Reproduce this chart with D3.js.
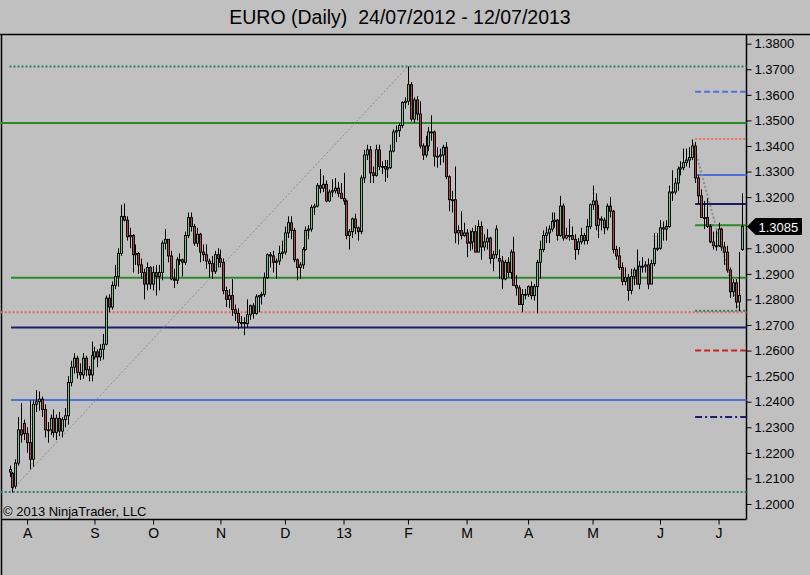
<!DOCTYPE html>
<html>
<head>
<meta charset="utf-8">
<title>EURO (Daily)</title>
<script src="https://cdnjs.cloudflare.com/ajax/libs/d3/7.8.5/d3.min.js"></script>
<style>
body { margin: 0; background: #c0c0c0; }
svg { display: block; font-family: "Liberation Sans", Arial, sans-serif; }
</style>
</head>
<body>
<svg width="810" height="575"></svg>
<script>
// daily bars, each [open, high, low, close]
var jul12 = [
  [1.2125,1.2150,1.2105,1.2135],[1.2120,1.2125,1.2045,1.2065],[1.2070,1.2175,1.2060,1.2160],
  [1.2160,1.2340,1.2150,1.2290],[1.2290,1.2395,1.2240,1.2270],[1.2315,1.2330,1.2250,1.2275]
];
var aug12 = [
  [1.2275,1.2300,1.2200,1.2240],[1.2240,1.2405,1.2135,1.2175],[1.2175,1.2405,1.2145,1.2390],
  [1.2390,1.2445,1.2360,1.2400],[1.2400,1.2440,1.2365,1.2410],[1.2410,1.2420,1.2340,1.2370],
  [1.2370,1.2390,1.2260,1.2290],[1.2290,1.2320,1.2240,1.2290],[1.2290,1.2350,1.2270,1.2335],
  [1.2335,1.2370,1.2260,1.2280],[1.2280,1.2350,1.2250,1.2335],[1.2335,1.2360,1.2265,1.2285],
  [1.2285,1.2340,1.2260,1.2330],[1.2330,1.2375,1.2300,1.2345],[1.2345,1.2500,1.2310,1.2475],
  [1.2475,1.2560,1.2460,1.2535],[1.2535,1.2590,1.2510,1.2570],[1.2570,1.2580,1.2490,1.2515],
  [1.2515,1.2550,1.2485,1.2505],[1.2505,1.2590,1.2490,1.2570],[1.2570,1.2580,1.2500,1.2525],
  [1.2525,1.2540,1.2480,1.2505],[1.2505,1.2635,1.2480,1.2580]
];
var sep12 = [
  [1.2575,1.2615,1.2565,1.2595],[1.2595,1.2605,1.2535,1.2575],[1.2575,1.2625,1.2560,1.2605],
  [1.2605,1.2665,1.2565,1.2625],[1.2625,1.2815,1.2620,1.2805],[1.2805,1.2820,1.2750,1.2770],
  [1.2770,1.2870,1.2760,1.2855],[1.2855,1.2935,1.2840,1.2890],[1.2890,1.3000,1.2850,1.2980],
  [1.2980,1.3170,1.2970,1.3125],[1.3125,1.3175,1.3105,1.3110],[1.3110,1.3125,1.3030,1.3045],
  [1.3045,1.3080,1.3000,1.3050],[1.3050,1.3055,1.2905,1.2975],[1.2975,1.3015,1.2935,1.2980],
  [1.2980,1.2985,1.2900,1.2935],[1.2935,1.2960,1.2880,1.2905],[1.2905,1.2920,1.2800,1.2860],
  [1.2860,1.2945,1.2835,1.2925],[1.2925,1.2930,1.2840,1.2860]
];
var oct12 = [
  [1.2860,1.2930,1.2835,1.2905],[1.2905,1.2935,1.2815,1.2890],[1.2890,1.2935,1.2835,1.2905],
  [1.2905,1.3030,1.2875,1.3020],[1.3020,1.3075,1.2995,1.3035],[1.3035,1.3035,1.2945,1.2970],
  [1.2970,1.2990,1.2875,1.2880],[1.2880,1.2920,1.2845,1.2875],[1.2875,1.2965,1.2860,1.2955],
  [1.2955,1.2980,1.2935,1.2955],[1.2955,1.2960,1.2890,1.2945],[1.2945,1.3065,1.2935,1.3050],
  [1.3050,1.3140,1.3040,1.3120],[1.3120,1.3140,1.3065,1.3085],[1.3085,1.3095,1.3010,1.3020],
  [1.3020,1.3080,1.3005,1.3055],[1.3055,1.3060,1.2945,1.2985],[1.2985,1.3015,1.2950,1.2975],
  [1.2975,1.3015,1.2920,1.2950],[1.2950,1.2960,1.2885,1.2940],[1.2940,1.2970,1.2880,1.2910],
  [1.2910,1.2990,1.2900,1.2975],[1.2975,1.3000,1.2925,1.2960]
];
var nov12 = [
  [1.2960,1.2995,1.2925,1.2945],[1.2945,1.2960,1.2820,1.2835],[1.2835,1.2850,1.2770,1.2800],
  [1.2800,1.2840,1.2765,1.2815],[1.2815,1.2880,1.2735,1.2760],[1.2760,1.2780,1.2715,1.2745],
  [1.2745,1.2765,1.2685,1.2710],[1.2710,1.2735,1.2690,1.2710],[1.2710,1.2730,1.2660,1.2705],
  [1.2705,1.2800,1.2690,1.2740],[1.2740,1.2780,1.2720,1.2775],[1.2775,1.2785,1.2725,1.2745],
  [1.2745,1.2820,1.2740,1.2810],[1.2810,1.2815,1.2750,1.2815],[1.2815,1.2830,1.2780,1.2820],
  [1.2820,1.2905,1.2810,1.2885],[1.2885,1.2980,1.2880,1.2975],[1.2975,1.2985,1.2925,1.2970],
  [1.2970,1.2990,1.2905,1.2945],[1.2945,1.2960,1.2880,1.2950],[1.2950,1.3010,1.2935,1.2980],
  [1.2980,1.3030,1.2960,1.2985]
];
var dec12 = [
  [1.2985,1.3085,1.2975,1.3060],[1.3060,1.3125,1.3040,1.3100],[1.3100,1.3125,1.3035,1.3070],
  [1.3070,1.3080,1.2945,1.2955],[1.2955,1.2960,1.2875,1.2925],[1.2925,1.2945,1.2880,1.2935],
  [1.2935,1.3005,1.2920,1.2995],[1.2995,1.3085,1.2990,1.3070],[1.3070,1.3090,1.3035,1.3075],
  [1.3075,1.3170,1.3065,1.3160],[1.3160,1.3175,1.3130,1.3165],[1.3165,1.3255,1.3160,1.3245],
  [1.3245,1.3310,1.3215,1.3235],[1.3235,1.3285,1.3220,1.3250],[1.3250,1.3265,1.3180,1.3185],
  [1.3185,1.3230,1.3180,1.3220],[1.3220,1.3270,1.3200,1.3225],[1.3225,1.3275,1.3215,1.3235],
  [1.3235,1.3260,1.3200,1.3215],[1.3215,1.3255,1.3195,1.3195]
];
var jan13 = [
  [1.3195,1.3295,1.3170,1.3185],[1.3185,1.3190,1.3035,1.3050],[1.3050,1.3075,1.2995,1.3065],
  [1.3065,1.3120,1.3040,1.3115],[1.3115,1.3135,1.3055,1.3080],[1.3080,1.3085,1.3030,1.3065],
  [1.3065,1.3285,1.3055,1.3275],[1.3275,1.3385,1.3255,1.3365],[1.3365,1.3405,1.3345,1.3385],
  [1.3385,1.3400,1.3255,1.3295],[1.3295,1.3320,1.3255,1.3285],[1.3285,1.3405,1.3280,1.3385],
  [1.3385,1.3405,1.3305,1.3320],[1.3320,1.3340,1.3290,1.3320],[1.3320,1.3345,1.3260,1.3310],
  [1.3310,1.3345,1.3275,1.3315],[1.3315,1.3405,1.3310,1.3380],[1.3380,1.3465,1.3375,1.3455],
  [1.3455,1.3480,1.3415,1.3460],[1.3460,1.3490,1.3435,1.3480],[1.3480,1.3575,1.3470,1.3570],
  [1.3570,1.3590,1.3545,1.3575]
];
var feb13 = [
  [1.3575,1.3711,1.3560,1.3640],[1.3640,1.3650,1.3495,1.3505],[1.3505,1.3590,1.3490,1.3580],
  [1.3580,1.3595,1.3500,1.3525],[1.3525,1.3575,1.3390,1.3400],[1.3400,1.3410,1.3345,1.3365],
  [1.3365,1.3440,1.3355,1.3400],[1.3400,1.3475,1.3380,1.3455],[1.3455,1.3520,1.3420,1.3455],
  [1.3455,1.3460,1.3320,1.3360],[1.3360,1.3395,1.3315,1.3360],[1.3360,1.3390,1.3325,1.3365],
  [1.3365,1.3405,1.3335,1.3395],[1.3395,1.3415,1.3270,1.3280],[1.3280,1.3285,1.3145,1.3190],
  [1.3190,1.3225,1.3140,1.3190],[1.3190,1.3320,1.3020,1.3060],[1.3060,1.3090,1.3015,1.3070],
  [1.3070,1.3145,1.3035,1.3050],[1.3050,1.3100,1.3045,1.3060]
];
var mar13 = [
  [1.3060,1.3075,1.2965,1.3020],[1.3020,1.3070,1.2990,1.3025],[1.3025,1.3080,1.2995,1.3065],
  [1.3065,1.3090,1.2985,1.2985],[1.2985,1.3110,1.2985,1.3085],[1.3085,1.3105,1.2955,1.3005],
  [1.3005,1.3055,1.2990,1.3025],[1.3025,1.3075,1.2995,1.3040],[1.3040,1.3045,1.2940,1.2960],
  [1.2960,1.2990,1.2910,1.2975],[1.2975,1.3090,1.2960,1.3075],[1.2960,1.2995,1.2880,1.2950],
  [1.2950,1.2970,1.2840,1.2880],[1.2880,1.2955,1.2875,1.2945],[1.2945,1.2965,1.2885,1.2905],
  [1.2905,1.2995,1.2880,1.2985],[1.2985,1.3045,1.2855,1.2855],[1.2855,1.2895,1.2815,1.2845],
  [1.2845,1.2855,1.2780,1.2780],[1.2780,1.2840,1.2750,1.2820],[1.2820,1.2840,1.2800,1.2820]
];
var apr13 = [
  [1.2820,1.2855,1.2810,1.2850],[1.2850,1.2870,1.2800,1.2815],[1.2815,1.2860,1.2795,1.2850],
  [1.2850,1.2955,1.2745,1.2945],[1.2945,1.3030,1.2880,1.2995],[1.2995,1.3070,1.2985,1.3050],
  [1.3050,1.3085,1.3020,1.3060],[1.3060,1.3090,1.3020,1.3075],[1.3075,1.3140,1.3065,1.3105],
  [1.3105,1.3140,1.3080,1.3110],[1.3110,1.3115,1.3030,1.3050],[1.3050,1.3205,1.3045,1.3165],
  [1.3165,1.3175,1.3030,1.3040],[1.3040,1.3080,1.3035,1.3050],[1.3050,1.3115,1.3030,1.3050],
  [1.3050,1.3085,1.3035,1.3035],[1.3035,1.3055,1.2955,1.2995],[1.2995,1.3040,1.2975,1.3025],
  [1.3025,1.3080,1.3015,1.3050],[1.3050,1.3060,1.3015,1.3030],[1.3030,1.3115,1.3015,1.3085],
  [1.3085,1.3175,1.3075,1.3170]
];
var may13 = [
  [1.3170,1.3245,1.3150,1.3185],[1.3185,1.3215,1.3070,1.3090],[1.3090,1.3170,1.3040,1.3115],
  [1.3115,1.3125,1.3070,1.3110],[1.3110,1.3120,1.3055,1.3080],[1.3080,1.3175,1.3070,1.3165],
  [1.3165,1.3200,1.3120,1.3145],[1.3145,1.3150,1.2980,1.2995],[1.2995,1.3010,1.2955,1.2970],
  [1.2970,1.3005,1.2915,1.2925],[1.2925,1.2945,1.2855,1.2870],[1.2870,1.2925,1.2855,1.2885],
  [1.2885,1.2900,1.2795,1.2835],[1.2835,1.2920,1.2820,1.2890],[1.2890,1.2925,1.2855,1.2915],
  [1.2915,1.2995,1.2860,1.2860],[1.2860,1.2950,1.2840,1.2930],[1.2930,1.2965,1.2905,1.2930],
  [1.2930,1.2950,1.2905,1.2935],[1.2935,1.2960,1.2840,1.2860],[1.2860,1.2955,1.2860,1.2940],
  [1.2940,1.3060,1.2930,1.3000],[1.3000,1.3060,1.2990,1.3000]
];
var jun13 = [
  [1.3000,1.3110,1.2995,1.3080],[1.3080,1.3105,1.3030,1.3075],[1.3075,1.3110,1.3030,1.3085],
  [1.3085,1.3245,1.3080,1.3220],[1.3220,1.3305,1.3185,1.3220],[1.3220,1.3275,1.3210,1.3255],
  [1.3255,1.3320,1.3225,1.3310],[1.3310,1.3340,1.3285,1.3315],[1.3315,1.3390,1.3305,1.3335],
  [1.3335,1.3390,1.3320,1.3345],[1.3345,1.3395,1.3315,1.3355],[1.3355,1.3425,1.3345,1.3400],
  [1.3400,1.3416,1.3255,1.3275],[1.3275,1.3285,1.3175,1.3205],[1.3205,1.3230,1.3120,1.3120],
  [1.3120,1.3185,1.3075,1.3120],[1.3120,1.3195,1.3080,1.3085],[1.3085,1.3095,1.3020,1.3025],
  [1.3025,1.3065,1.2995,1.3010],[1.3010,1.3070,1.2990,1.3010]
];
var jul13 = [
  [1.3010,1.3100,1.3005,1.3075],[1.3075,1.3080,1.2990,1.3005],[1.3005,1.3025,1.2935,1.2985],
  [1.2985,1.3010,1.2905,1.2915],[1.2915,1.2925,1.2805,1.2830],[1.2830,1.2880,1.2810,1.2865],
  [1.2865,1.2880,1.2765,1.2790],[1.2790,1.2985,1.2755,1.2815],[1.2995,1.3215,1.2990,1.3085]
];

// month tick labels and the bar index where each month starts
var tickLabels = ["A", "S", "O", "N", "D", "13", "F", "M", "A", "M", "J", "J"];
var tickBars = [6, 29, 49, 72, 94, 114, 136, 156, 177, 199, 222, 242];

// price axis labels (1.3100 sits under the last price marker)
var priceTicks = [1.20, 1.21, 1.22, 1.23, 1.24, 1.25, 1.26, 1.27, 1.28, 1.29, 1.30,
                  1.32, 1.33, 1.34, 1.35, 1.36, 1.37, 1.38];

// horizontal levels across the chart, and short pivot levels on the right
var fullLevels = [1.3711, 1.3490, 1.2885, 1.2750, 1.2690, 1.2407, 1.2047];
var fullStart = [0, -3, 0.5, -3, 0.5, 0.5, -3];
var pivotLevels = [1.3612, 1.3427, 1.3287, 1.3173, 1.3090, 1.2756, 1.2600, 1.2340];
var pivotStart = 234;

// trend lines: [bar, price, bar, price]
var trendLines = [[0, 1.2045, 136, 1.3711], [233, 1.3425, 249, 1.2755]];

var lastPrice = 1.3085;

var bars = [].concat(jul12, aug12, sep12, oct12, nov12, dec12, jan13, feb13, mar13, apr13, may13, jun13, jul13);

var svg = d3.select("svg");
var plotRight = 746.5, plotTop = 34.5, plotBottom = 519.5;

var x = d3.scaleLinear().domain([0, bars.length - 1]).range([9.5, 742]);
var y = d3.scaleLinear().domain([1.20, 1.38]).range([504, 43.7]);

// title
svg.append("text")
    .attr("x", 400).attr("y", 24)
    .attr("text-anchor", "middle")
    .attr("font-size", 19.5)
    .style("white-space", "pre")
    .text("EURO (Daily)  24/07/2012 - 12/07/2013");

// frame
svg.append("line").attr("x1", 0).attr("x2", 810).attr("y1", plotTop).attr("y2", plotTop)
    .attr("stroke", "#000").attr("stroke-width", 1.5);
svg.append("line").attr("x1", 1.5).attr("x2", 1.5).attr("y1", plotTop).attr("y2", 575)
    .attr("stroke", "#000").attr("stroke-width", 1.5);
svg.append("line").attr("x1", 1).attr("x2", plotRight).attr("y1", plotBottom).attr("y2", plotBottom)
    .attr("stroke", "#000").attr("stroke-width", 1.5);
svg.append("line").attr("x1", plotRight).attr("x2", plotRight).attr("y1", plotTop).attr("y2", plotBottom)
    .attr("stroke", "#000").attr("stroke-width", 1.5);

// full width levels
var fullStyle = [
    {c: "#2f7d6d", w: 2, d: "2,2"},
    {c: "#2a8a2a", w: 2, d: null},
    {c: "#2a8a2a", w: 2, d: null},
    {c: "#e0606a", w: 2, d: "2,2"},
    {c: "#1c1c6a", w: 2, d: null},
    {c: "#4d6fd8", w: 2, d: null},
    {c: "#2f7d6d", w: 2, d: "2,2"}
];
svg.append("g").selectAll("line")
    .data(fullLevels)
    .enter().append("line")
    .attr("x1", function(d, i){ return x(fullStart[i]); })
    .attr("x2", plotRight)
    .attr("y1", function(d){ return y(d); })
    .attr("y2", function(d){ return y(d); })
    .attr("stroke", function(d, i){ return fullStyle[i].c; })
    .attr("stroke-width", function(d, i){ return fullStyle[i].w; })
    .attr("stroke-dasharray", function(d, i){ return fullStyle[i].d; });

// pivot levels
var pivotStyle = [
    {c: "#5070e0", d: "6,3"},
    {c: "#f0705a", d: "2,2"},
    {c: "#4d6fd8", d: null},
    {c: "#1c1c6a", d: null},
    {c: "#2a8a2a", d: null},
    {c: "#2f7d6d", d: "2,2"},
    {c: "#cc2222", d: "6,3"},
    {c: "#1c1c6a", d: "7,3,2,3"}
];
svg.append("g").selectAll("line")
    .data(pivotLevels)
    .enter().append("line")
    .attr("x1", x(pivotStart))
    .attr("x2", plotRight)
    .attr("y1", function(d){ return y(d); })
    .attr("y2", function(d){ return y(d); })
    .attr("stroke", function(d, i){ return pivotStyle[i].c; })
    .attr("stroke-width", 2)
    .attr("stroke-dasharray", function(d, i){ return pivotStyle[i].d; });

// trend lines
svg.append("g").selectAll("line")
    .data(trendLines)
    .enter().append("line")
    .attr("x1", function(d){ return x(d[0]); })
    .attr("y1", function(d){ return y(d[1]); })
    .attr("x2", function(d){ return x(d[2]); })
    .attr("y2", function(d){ return y(d[3]); })
    .attr("stroke", "#8a8a8a")
    .attr("stroke-width", function(d, i){ return i == 0 ? 1 : 2; })
    .attr("stroke-dasharray", "2,2");

// candles
var candle = svg.append("g").selectAll("g")
    .data(bars)
    .enter().append("g");

candle.append("line")
    .attr("x1", function(d, i){ return Math.round(x(i)) + 0.5; })
    .attr("x2", function(d, i){ return Math.round(x(i)) + 0.5; })
    .attr("y1", function(d){ return y(d[1]); })
    .attr("y2", function(d){ return y(d[2]); })
    .attr("stroke", "#000")
    .attr("stroke-width", 1);

candle.append("rect")
    .attr("x", function(d, i){ return Math.round(x(i)) - 0.5; })
    .attr("width", 2)
    .attr("y", function(d){ return y(Math.max(d[0], d[3])); })
    .attr("height", function(d){ return Math.max(1, Math.abs(y(d[0]) - y(d[3]))); })
    .attr("fill", function(d){ return d[3] >= d[0] ? "#7dbb90" : "#a8454c"; })
    .attr("stroke", "#000")
    .attr("stroke-width", 0.9);

// price axis
var yAxis = svg.append("g")
    .attr("transform", "translate(" + plotRight + ",0)")
    .call(d3.axisRight(y).tickValues(priceTicks).tickSize(5).tickPadding(3).tickFormat(d3.format(".4f")));
yAxis.select(".domain").remove();
yAxis.selectAll("text").attr("font-size", 13).attr("font-family", "Liberation Sans, Arial, sans-serif").attr("fill", "#000");
yAxis.selectAll("line").attr("stroke", "#000");

// time axis
var xAxis = svg.append("g")
    .attr("transform", "translate(0," + plotBottom + ")")
    .call(d3.axisBottom(x).tickValues(tickBars).tickSize(5).tickPadding(4)
        .tickFormat(function(d, i){ return tickLabels[i]; }));
xAxis.select(".domain").remove();
xAxis.selectAll("text").attr("font-size", 14).attr("font-family", "Liberation Sans, Arial, sans-serif").attr("fill", "#000");
xAxis.selectAll("line").attr("stroke", "#000");

// last price marker
var ly = y(lastPrice);
svg.append("path")
    .attr("d", "M" + (plotRight + 0.5) + "," + ly + " L" + (plotRight + 9) + "," + (ly - 8.5) +
        " L802," + (ly - 8.5) + " L802," + (ly + 8.5) + " L" + (plotRight + 9) + "," + (ly + 8.5) + " Z")
    .attr("fill", "#000");
svg.append("text")
    .attr("x", plotRight + 12).attr("y", ly + 5)
    .attr("font-size", 13).attr("fill", "#fff")
    .text(d3.format(".4f")(lastPrice));

// copyright
svg.append("text")
    .attr("x", 3).attr("y", 516)
    .attr("font-size", 13)
    .text("\u00a9 2013 NinjaTrader, LLC");
</script>
</body>
</html>
